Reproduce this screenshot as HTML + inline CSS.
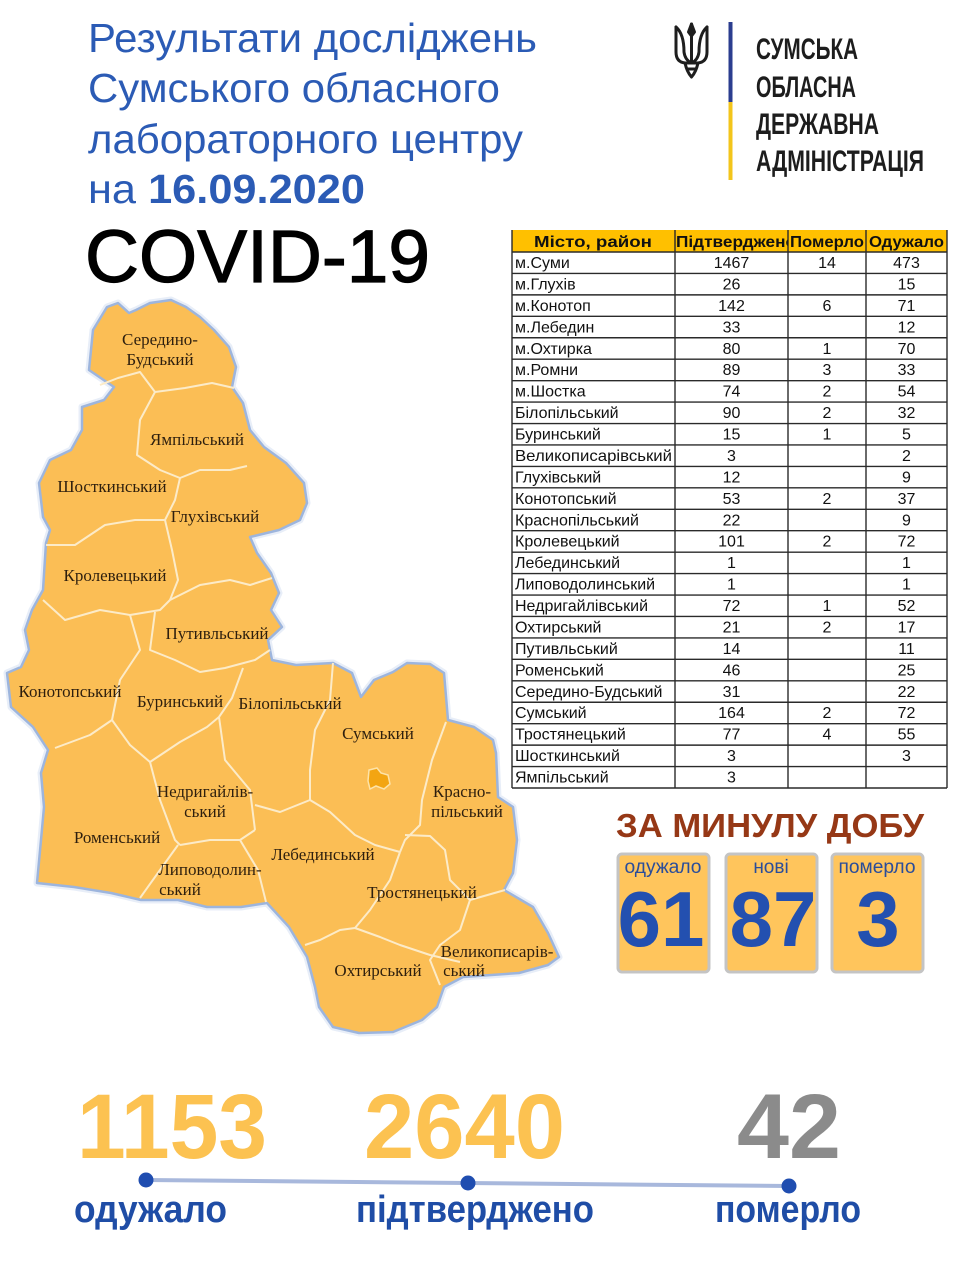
<!DOCTYPE html>
<html><head><meta charset="utf-8"><style>
html,body{margin:0;padding:0;background:#fff;}
svg{display:block;}
</style></head><body>
<svg width="976" height="1280" viewBox="0 0 976 1280" xmlns="http://www.w3.org/2000/svg">
<rect width="976" height="1280" fill="#fff"/>
<!-- Title -->
<g font-family="'Liberation Sans', Arial, sans-serif" fill="#2B5BB5" font-size="41">
<text x="88" y="52" textLength="449" lengthAdjust="spacingAndGlyphs">Результати досліджень</text>
<text x="88" y="102" textLength="412" lengthAdjust="spacingAndGlyphs">Сумського обласного</text>
<text x="88" y="153" textLength="435" lengthAdjust="spacingAndGlyphs">лабораторного центру</text>
<text x="88" y="203" textLength="277" lengthAdjust="spacingAndGlyphs">на <tspan font-weight="bold">16.09.2020</tspan></text>
</g>
<text x="85" y="282" font-family="'Liberation Sans', Arial, sans-serif" font-size="74" fill="#000" stroke="#000" stroke-width="1.2" textLength="345" lengthAdjust="spacingAndGlyphs">COVID-19</text>

<!-- Logo -->
<g transform="translate(673,22)" stroke="#1e1e1e" stroke-width="3" fill="none" stroke-linecap="round" stroke-linejoin="round">
<path d="M3 5 L3 30 Q3 40 12 41 L25 41 Q34 40 34 30 L34 5"/>
<path d="M3 5 Q11 12 11 30 Q12 38 18.5 41"/>
<path d="M34 5 Q26 12 26 30 Q25 38 18.5 41"/>
<path d="M18.5 2 L18.5 41"/>
<path d="M18.5 2 L15.5 10 L18.5 14 L21.5 10 Z"/>
<path d="M12 41 Q14 50 18.5 55 Q23 50 25 41"/>
<path d="M14 47 L23 47"/>
</g>
<rect x="728.5" y="22" width="4" height="80" fill="#2B3D8F"/>
<rect x="728.5" y="102" width="4" height="78" fill="#F3C51B"/>
<g font-family="'Liberation Sans', Arial, sans-serif" fill="#1d1d1d" font-size="30" font-weight="bold">
<text x="756" y="59" textLength="102" lengthAdjust="spacingAndGlyphs">СУМСЬКА</text>
<text x="756" y="97" textLength="100" lengthAdjust="spacingAndGlyphs">ОБЛАСНА</text>
<text x="756" y="134" textLength="123" lengthAdjust="spacingAndGlyphs">ДЕРЖАВНА</text>
<text x="756" y="171" textLength="168" lengthAdjust="spacingAndGlyphs">АДМІНІСТРАЦІЯ</text>
</g>

<!-- Map -->
<g>
<polygon points="118,303 129,313 136,310 150,303 171,300 186,307 200,317 214,330 229,347 236,367 232,387 243,403 250,430 264,447 286,463 304,483 307,503 300,520 279,530 250,537 257,553 271,573 279,593 271,610 282,627 268,640 272,660 296,665 333,663 352,673 361,697 374,680 393,672 407,663 430,664 444,673 448,720 474,727 493,740 496,753 498,797 513,807 517,840 513,873 504,890 533,907 548,933 559,957 548,965 519,973 463,977 444,987 437,1007 422,1020 393,1032 359,1033 333,1027 319,1007 315,987 307,957 289,927 267,903 241,907 207,907 178,900 141,900 111,893 74,887 37,883 41,840 44,807 41,773 48,750 33,727 11,707 7,673 21,667 29,650 25,630 32,610 43,590 46,543 50,530 43,517 39,483 50,460 71,450 82,430 82,407 104,400 114,387 89,370 93,330 107,307" fill="#FBBE55" stroke="#E8EEF8" stroke-width="7" stroke-linejoin="round"/>
<polygon points="118,303 129,313 136,310 150,303 171,300 186,307 200,317 214,330 229,347 236,367 232,387 243,403 250,430 264,447 286,463 304,483 307,503 300,520 279,530 250,537 257,553 271,573 279,593 271,610 282,627 268,640 272,660 296,665 333,663 352,673 361,697 374,680 393,672 407,663 430,664 444,673 448,720 474,727 493,740 496,753 498,797 513,807 517,840 513,873 504,890 533,907 548,933 559,957 548,965 519,973 463,977 444,987 437,1007 422,1020 393,1032 359,1033 333,1027 319,1007 315,987 307,957 289,927 267,903 241,907 207,907 178,900 141,900 111,893 74,887 37,883 41,840 44,807 41,773 48,750 33,727 11,707 7,673 21,667 29,650 25,630 32,610 43,590 46,543 50,530 43,517 39,483 50,460 71,450 82,430 82,407 104,400 114,387 89,370 93,330 107,307" fill="#FBBE55" stroke="#9DB5DD" stroke-width="2.5" stroke-linejoin="round"/>
<g fill="none" stroke="#FCEBC8" stroke-width="2" stroke-linejoin="round">
<polyline points="100,385 118,378 140,372 155,392 185,388 212,383 234,388"/>
<polyline points="155,392 140,420 137,455 160,470 180,478 200,470 230,470 247,466"/>
<polyline points="180,478 175,500 165,520"/>
<polyline points="46,545 75,545 105,525 135,520 165,520"/>
<polyline points="165,520 172,550 178,580 170,600"/>
<polyline points="170,600 200,585 230,580 250,585 272,578"/>
<polyline points="43,600 65,620 100,610 130,615 160,610 170,600"/>
<polyline points="155,612 150,650 175,660 200,672 225,668 255,660 270,650"/>
<polyline points="130,615 140,650 120,680 112,720 90,735 55,748"/>
<polyline points="112,720 130,745 150,762"/>
<polyline points="243,668 232,698 219,717 207,727 180,742 150,762"/>
<polyline points="219,717 225,760 250,790 255,830"/>
<polyline points="333,663 330,700 315,730 310,770 310,800"/>
<polyline points="255,805 280,812 310,800"/>
<polyline points="150,762 160,800 175,840 180,845"/>
<polyline points="180,845 210,840 240,840 255,830"/>
<polyline points="240,840 258,870 266,902"/>
<polyline points="178,845 160,870 140,898"/>
<polyline points="310,800 330,812 355,835 375,845 400,852"/>
<polyline points="446,722 432,760 422,800 420,825 405,840 400,852"/>
<polyline points="400,852 390,880 370,910 355,928"/>
<polyline points="405,835 430,836 445,850 450,880 470,900 505,890"/>
<polyline points="305,945 320,940 340,930 355,928"/>
<polyline points="355,928 380,937 400,945 430,955 460,962"/>
<polyline points="470,900 460,930 440,945 430,960 440,985"/>
</g>
<path d="M369 770 L377 768 L381 773 L388 775 L390 784 L384 789 L376 786 L370 789 L368 781 Z" fill="#F3A512" stroke="#FDE3A8" stroke-width="1.5"/>
</g>
<g font-family="'Liberation Serif', 'Times New Roman', serif" font-size="17" fill="#2e1f0e" text-anchor="middle">
<text x="160" y="345">Середино-</text>
<text x="160" y="365">Будський</text>
<text x="197" y="445">Ямпільський</text>
<text x="112" y="492">Шосткинський</text>
<text x="215" y="522">Глухівський</text>
<text x="115" y="581">Кролевецький</text>
<text x="217" y="639">Путивльський</text>
<text x="70" y="697">Конотопський</text>
<text x="180" y="707">Буринський</text>
<text x="290" y="709">Білопільський</text>
<text x="378" y="739">Сумський</text>
<text x="205" y="797">Недригайлів-</text>
<text x="205" y="817">ський</text>
<text x="462" y="797">Красно-</text>
<text x="467" y="817">пільський</text>
<text x="117" y="843">Роменський</text>
<text x="323" y="860">Лебединський</text>
<text x="210" y="875">Липоводолин-</text>
<text x="180" y="895">ський</text>
<text x="422" y="898">Тростянецький</text>
<text x="497" y="957">Великописарів-</text>
<text x="464" y="976">ський</text>
<text x="378" y="976">Охтирський</text>
</g>

<!-- Table -->
<defs><clipPath id="c2"><rect x="675" y="228" width="113" height="26"/></clipPath></defs>
<rect x="512" y="230" width="435" height="22" fill="#FFC000"/>
<rect x="512" y="252" width="435" height="536" fill="#fff"/>
<g font-family="'Liberation Sans', Arial, sans-serif" font-size="15.5" font-weight="bold" fill="#111">
<text x="593" y="247" text-anchor="middle" textLength="118" lengthAdjust="spacingAndGlyphs">Місто, район</text>
<text x="676" y="247" clip-path="url(#c2)" textLength="120" lengthAdjust="spacingAndGlyphs">Підтверджено</text>
<text x="827" y="247" text-anchor="middle" textLength="74" lengthAdjust="spacingAndGlyphs">Померло</text>
<text x="906.5" y="247" text-anchor="middle" textLength="75" lengthAdjust="spacingAndGlyphs">Одужало</text>
</g>
<g stroke="#2a2a2a" stroke-width="1.4">
<line x1="512" y1="230" x2="512" y2="788"/>
<line x1="675" y1="230" x2="675" y2="788"/>
<line x1="788" y1="230" x2="788" y2="788"/>
<line x1="866" y1="230" x2="866" y2="788"/>
<line x1="947" y1="230" x2="947" y2="788"/>
<line x1="512" y1="252" x2="947" y2="252"/>
<line x1="512" y1="273.44" x2="947" y2="273.44"/>
<line x1="512" y1="294.88" x2="947" y2="294.88"/>
<line x1="512" y1="316.32" x2="947" y2="316.32"/>
<line x1="512" y1="337.76" x2="947" y2="337.76"/>
<line x1="512" y1="359.2" x2="947" y2="359.2"/>
<line x1="512" y1="380.64" x2="947" y2="380.64"/>
<line x1="512" y1="402.08" x2="947" y2="402.08"/>
<line x1="512" y1="423.52" x2="947" y2="423.52"/>
<line x1="512" y1="444.96" x2="947" y2="444.96"/>
<line x1="512" y1="466.4" x2="947" y2="466.4"/>
<line x1="512" y1="487.84" x2="947" y2="487.84"/>
<line x1="512" y1="509.28" x2="947" y2="509.28"/>
<line x1="512" y1="530.72" x2="947" y2="530.72"/>
<line x1="512" y1="552.16" x2="947" y2="552.16"/>
<line x1="512" y1="573.6" x2="947" y2="573.6"/>
<line x1="512" y1="595.04" x2="947" y2="595.04"/>
<line x1="512" y1="616.48" x2="947" y2="616.48"/>
<line x1="512" y1="637.92" x2="947" y2="637.92"/>
<line x1="512" y1="659.36" x2="947" y2="659.36"/>
<line x1="512" y1="680.8" x2="947" y2="680.8"/>
<line x1="512" y1="702.24" x2="947" y2="702.24"/>
<line x1="512" y1="723.68" x2="947" y2="723.68"/>
<line x1="512" y1="745.12" x2="947" y2="745.12"/>
<line x1="512" y1="766.56" x2="947" y2="766.56"/>
<line x1="512" y1="788" x2="947" y2="788"/>
</g>
<g font-family="'Liberation Sans', Arial, sans-serif" font-size="16" fill="#111">
<text x="515" y="268">м.Суми</text>
<text x="515" y="289.4">м.Глухів</text>
<text x="515" y="310.9">м.Конотоп</text>
<text x="515" y="332.3">м.Лебедин</text>
<text x="515" y="353.8">м.Охтирка</text>
<text x="515" y="375.2">м.Ромни</text>
<text x="515" y="396.6">м.Шостка</text>
<text x="515" y="418.1">Білопільський</text>
<text x="515" y="439.5">Буринський</text>
<text x="515" y="461" textLength="157" lengthAdjust="spacingAndGlyphs">Великописарівський</text>
<text x="515" y="482.4">Глухівський</text>
<text x="515" y="503.8">Конотопський</text>
<text x="515" y="525.3">Краснопільський</text>
<text x="515" y="546.7">Кролевецький</text>
<text x="515" y="568.2">Лебединський</text>
<text x="515" y="589.6">Липоводолинський</text>
<text x="515" y="611">Недригайлівський</text>
<text x="515" y="632.5">Охтирський</text>
<text x="515" y="653.9">Путивльський</text>
<text x="515" y="675.4">Роменський</text>
<text x="515" y="696.8">Середино-Будський</text>
<text x="515" y="718.2">Сумський</text>
<text x="515" y="739.7">Тростянецький</text>
<text x="515" y="761.1">Шосткинський</text>
<text x="515" y="782.6">Ямпільський</text>
</g>
<g font-family="'Liberation Sans', Arial, sans-serif" font-size="16" fill="#111" text-anchor="middle">
<text x="731.5" y="268">1467</text><text x="827" y="268">14</text><text x="906.5" y="268">473</text>
<text x="731.5" y="289.4">26</text><text x="906.5" y="289.4">15</text>
<text x="731.5" y="310.9">142</text><text x="827" y="310.9">6</text><text x="906.5" y="310.9">71</text>
<text x="731.5" y="332.3">33</text><text x="906.5" y="332.3">12</text>
<text x="731.5" y="353.8">80</text><text x="827" y="353.8">1</text><text x="906.5" y="353.8">70</text>
<text x="731.5" y="375.2">89</text><text x="827" y="375.2">3</text><text x="906.5" y="375.2">33</text>
<text x="731.5" y="396.6">74</text><text x="827" y="396.6">2</text><text x="906.5" y="396.6">54</text>
<text x="731.5" y="418.1">90</text><text x="827" y="418.1">2</text><text x="906.5" y="418.1">32</text>
<text x="731.5" y="439.5">15</text><text x="827" y="439.5">1</text><text x="906.5" y="439.5">5</text>
<text x="731.5" y="461">3</text><text x="906.5" y="461">2</text>
<text x="731.5" y="482.4">12</text><text x="906.5" y="482.4">9</text>
<text x="731.5" y="503.8">53</text><text x="827" y="503.8">2</text><text x="906.5" y="503.8">37</text>
<text x="731.5" y="525.3">22</text><text x="906.5" y="525.3">9</text>
<text x="731.5" y="546.7">101</text><text x="827" y="546.7">2</text><text x="906.5" y="546.7">72</text>
<text x="731.5" y="568.2">1</text><text x="906.5" y="568.2">1</text>
<text x="731.5" y="589.6">1</text><text x="906.5" y="589.6">1</text>
<text x="731.5" y="611">72</text><text x="827" y="611">1</text><text x="906.5" y="611">52</text>
<text x="731.5" y="632.5">21</text><text x="827" y="632.5">2</text><text x="906.5" y="632.5">17</text>
<text x="731.5" y="653.9">14</text><text x="906.5" y="653.9">11</text>
<text x="731.5" y="675.4">46</text><text x="906.5" y="675.4">25</text>
<text x="731.5" y="696.8">31</text><text x="906.5" y="696.8">22</text>
<text x="731.5" y="718.2">164</text><text x="827" y="718.2">2</text><text x="906.5" y="718.2">72</text>
<text x="731.5" y="739.7">77</text><text x="827" y="739.7">4</text><text x="906.5" y="739.7">55</text>
<text x="731.5" y="761.1">3</text><text x="906.5" y="761.1">3</text>
<text x="731.5" y="782.6">3</text>
</g>

<!-- Daily -->
<text x="616" y="837" font-family="'Liberation Sans', Arial, sans-serif" font-size="33" font-weight="bold" fill="#963816" textLength="308" lengthAdjust="spacingAndGlyphs">ЗА МИНУЛУ ДОБУ</text>
<g fill="#FFC55C" stroke="#C4C4C4" stroke-width="3">
<rect x="618" y="854" width="91" height="118" rx="4"/>
<rect x="726" y="854" width="91" height="118" rx="4"/>
<rect x="832" y="854" width="91" height="118" rx="4"/>
</g>
<g font-family="'Liberation Sans', Arial, sans-serif" font-size="19" fill="#2A4D9A" text-anchor="middle">
<text x="663" y="873" textLength="77" lengthAdjust="spacingAndGlyphs">одужало</text>
<text x="771" y="873">нові</text>
<text x="877" y="873" textLength="77" lengthAdjust="spacingAndGlyphs">померло</text>
</g>
<g font-family="'Liberation Sans', Arial, sans-serif" font-size="78" font-weight="bold" fill="#2350B0" text-anchor="middle">
<text x="661" y="946">61</text>
<text x="773" y="946">87</text>
<text x="878" y="946">3</text>
</g>

<!-- Bottom totals -->
<g font-family="'Liberation Sans', Arial, sans-serif" font-size="92" font-weight="bold">
<text x="77" y="1158" fill="#FCC251" textLength="190" lengthAdjust="spacingAndGlyphs">1153</text>
<text x="364" y="1158" fill="#FCC251" textLength="201" lengthAdjust="spacingAndGlyphs">2640</text>
<text x="737" y="1158" fill="#8B8B8B" textLength="104" lengthAdjust="spacingAndGlyphs">42</text>
</g>
<line x1="146" y1="1180" x2="789" y2="1186" stroke="#A8B8DC" stroke-width="4"/>
<g fill="#1F4DB0">
<circle cx="146" cy="1180" r="7.5"/>
<circle cx="468" cy="1183" r="7.5"/>
<circle cx="789" cy="1186" r="7.5"/>
</g>
<g font-family="'Liberation Sans', Arial, sans-serif" font-size="38" font-weight="bold" fill="#1F4DA6">
<text x="74" y="1222" textLength="153" lengthAdjust="spacingAndGlyphs">одужало</text>
<text x="356" y="1222" textLength="238" lengthAdjust="spacingAndGlyphs">підтверджено</text>
<text x="715" y="1222" textLength="146" lengthAdjust="spacingAndGlyphs">померло</text>
</g>
</svg>
</body></html>
